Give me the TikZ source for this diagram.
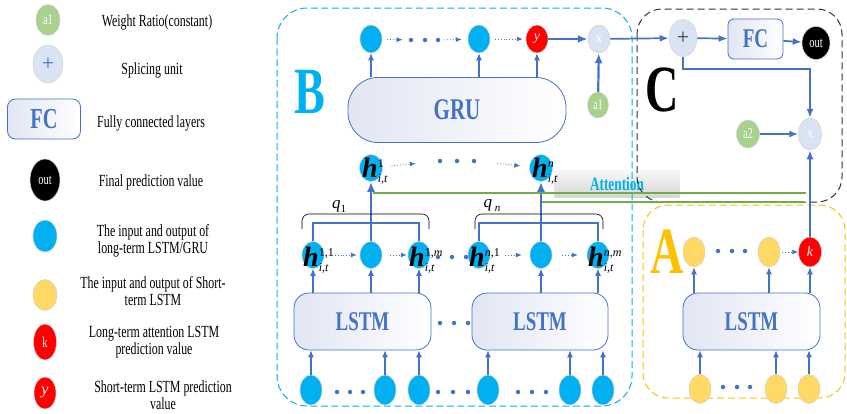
\documentclass[tikz,border=0pt]{standalone}
\usepackage{fontspec}
\setmainfont{Liberation Serif}[FakeStretch=0.7]
\newfontfamily\plainf{Liberation Serif}
\usetikzlibrary{shapes.geometric,arrows.meta}
\definecolor{cblue}{HTML}{00B0F0}
\definecolor{ablue}{HTML}{4472C4}
\definecolor{cyel}{HTML}{FFD966}
\definecolor{cgreen}{HTML}{A9D18E}
\definecolor{splice}{HTML}{DAE3F3}
\definecolor{agreen}{HTML}{70AD47}
\definecolor{aorange}{HTML}{FFC000}
\definecolor{boxl}{HTML}{E1E6F3}
\newcommand{\fs}[1]{\fontsize{#1}{#1}\selectfont}
\newcommand{\hlab}[2]{{\plainf\fs{28}\bfseries\itshape h}{\plainf\fs{12}\rlap{\raisebox{10pt}{#1}}\raisebox{-5pt}{\itshape #2}}}
\begin{document}
\begin{tikzpicture}[x=1pt,y=-1pt,
  sz/.style 2 args={minimum width=#1, minimum height=#2},
  ell/.style={ellipse, inner sep=0pt, draw=gray!35, line width=0.5pt},
  bl/.style={ell, fill=cblue, sz={22}{27}},
  yl/.style={ell, fill=cyel, sz={22}{30}},
  rd/.style={ell, fill=red, text=white, font=\plainf\fs{14}\itshape},
  sp/.style={ell, fill=splice, text=white, font=\plainf\fs{14}},
  gr/.style={ell, fill=cgreen, text=white, font=\fs{15}},
  blk/.style={ell, fill=black, text=white, font=\fs{15}},
  rbox/.style={draw=ablue, line width=0.8pt, left color=boxl, right color=white, text=ablue, inner sep=0pt},
  lt/.style={font=\fs{17}, align=center, inner sep=0pt},
  arr/.style={-{Latex[length=7pt,width=6pt]}, ablue, line width=1.1pt},
  arrm/.style={-{Latex[length=9pt,width=7pt]}, ablue, line width=1.7pt},
  tarr/.style={-{Latex[length=10pt,width=8pt]}, ablue, line width=2.2pt},
  darr/.style={-{Latex[length=6pt,width=5pt]}, ablue, line width=0.8pt, dotted},
  fork/.style={ablue, line width=2.2pt},
  brace/.style={black, line width=0.6pt, rounded corners=7},
  dt/.style={circle, fill=ablue, inner sep=0pt, minimum size=4.5},
  glab/.style={inner sep=0pt, anchor=base west},
  big/.style={font=\fs{66}\bfseries, inner sep=0pt}
]
\useasboundingbox (0,0) rectangle (847,413);

% ---------------- legend
\node[gr, sz={24}{31}] (lga) at (48,20) {a1};
\node[lt] (lt1) at (157,22) {Weight Ratio(constant)};
\node[sp, sz={30}{38}, text=ablue, font=\plainf\fs{22}] (lgs) at (48,64) {+};
\node[lt] (lt2) at (152,70) {Splicing unit};
\node[rbox, sz={73}{40}, rounded corners=8, font=\fs{29}\bfseries] (lgf) at (44,119) {FC};
\node[lt] (lt3) at (151,123) {Fully connected layers};
\node[blk, sz={30}{42}] (lgo) at (45,180) {out};
\node[lt] (lt4) at (151,182) {Final prediction value};
\node[bl, sz={24}{32}] (lgb) at (45,236) {};
\node[lt] (lt5) at (153,241) {The input and output of\\long-term LSTM/GRU};
\node[yl, sz={24}{31}] (lgy) at (45,295) {};
\node[lt] (lt6) at (153,291) {The input and output of Short-\\term LSTM};
\node[rd, sz={23}{36}, font=\fs{15}] (lgk) at (45,342) {k};
\node[lt] (lt7) at (154,342) {Long-term attention LSTM\\prediction value};
\node[rd, sz={22}{32}, font=\plainf\fs{16}\itshape] (lgyy) at (45,393) {y};
\node[lt] (lt8) at (163,395) {Short-term LSTM prediction\\value};

% ---------------- attention box
\node[sz={125}{27}, top color=gray!6, bottom color=gray!32, inner sep=0pt,
      text=cblue, font=\fs{19}\bfseries] (att) at (617,183.5) {Attention};

% ---------------- dashed frames
\draw[cblue, line width=1pt, dash pattern=on 7pt off 3.5pt, rounded corners=30] (277,8) rectangle (632,406);
\draw[black!80, line width=1pt, dash pattern=on 7pt off 4pt, rounded corners=25] (637,9) rectangle (842,202);
\draw[aorange, line width=1pt, dash pattern=on 7pt off 4pt, rounded corners=25] (643,205) rectangle (845,398);

\node[big, text=cblue] (labB) at (310,92) {B};
\node[big, text=black] (labC) at (662,90) {C};
\node[big, text=aorange] (labA) at (667,252) {A};

% ---------------- B : top row
\node[bl, sz={22}{28}] (t1) at (371,39) {};
\node[bl, sz={22}{28}] (t2) at (479,39) {};
\node[rd, sz={22}{28}] (ty) at (537,39) {y};
\node[sp, sz={22}{28}] (tx) at (599,39) {x};
\node[gr, sz={21}{26}] (ta1) at (598,105) {a1};
\node[dt] (td1) at (411,40) {};
\node[dt] (td2) at (425,40) {};
\node[dt] (td3) at (438,40) {};
\draw[darr, shorten <=5pt, shorten >=6pt] (t1) -- (td1);
\draw[darr, shorten <=4pt, shorten >=6pt] (td3) -- (t2);
\draw[darr, shorten <=5pt, shorten >=3pt] (t2) -- (ty);
\draw[tarr] (ty) -- (tx);
\draw[tarr] (ta1) -- (tx);

\node[rbox, sz={218}{65}, rounded corners=30, font=\fs{30}\bfseries] (gru) at (457,110) {GRU};
\draw[arr] (t1 |- gru.north) -- (t1);
\draw[arr] (t2 |- gru.north) -- (t2);
\draw[arr] (ty |- gru.north) -- (ty);

% ---------------- h row
\node[bl, sz={23}{27}] (h1) at (371,168) {};
\node[bl, sz={23}{27}] (hn) at (541,168) {};
\node[glab] (h1l) at (362,177) {\hlab{1}{i,t}};
\node[glab] (hnl) at (532,177) {\hlab{\itshape n}{i,t}};
\node[dt] (hd1) at (440,161) {};
\node[dt] (hd2) at (457,161) {};
\node[dt] (hd3) at (474,161) {};
\draw[darr, shorten <=9pt, shorten >=22pt] (h1) -- (hd1);
\draw[darr, shorten <=21pt, shorten >=9pt] (hd3) -- (hn);

% ---------------- second row
\node[bl] (g11) at (313,255) {};
\node[bl] (g1c) at (371,255) {};
\node[bl] (g1m) at (419,255) {};
\node[bl] (gn1) at (479,255) {};
\node[bl] (gnc) at (541,255) {};
\node[bl] (gnm) at (598,255) {};
\node[glab] (g11l) at (303,266) {\hlab{1,1}{i,t}};
\node[glab] (g1ml) at (409,266) {\hlab{1,\itshape m}{i,t}};
\node[glab] (gn1l) at (469,266) {\hlab{\itshape n\upshape,1}{i,t}};
\node[glab] (gnml) at (588,266) {\hlab{\itshape n\upshape,\itshape m}{i,t}};
\node[dt] (gd1) at (438,257) {};
\node[dt] (gd2) at (452,257) {};
\node[dt] (gd3) at (466,257) {};
\draw[darr, shorten <=8pt, shorten >=3pt] (g11) -- (g1c);
\draw[darr, shorten <=8pt, shorten >=1pt] (g1c) -- (g1m);
\draw[darr, shorten <=15pt, shorten >=8pt] (gn1) -- (gnc);
\draw[darr, shorten <=10pt, shorten >=9pt] (gnc) -- (gnm);

% forks and braces
\coordinate (fk1) at (371,223);
\coordinate (fk2) at (541,223);
\draw[fork] (g11.north) |- (fk1) -| (g1m.north);
\draw[fork] (gn1.north) |- (fk2) -| (gnm.north);
\draw[tarr] (g1c.north) -- (h1);
\draw[tarr] (gnc.north) -- (hn);
\coordinate (br1a) at (302,229);
\coordinate (br1b) at (429,229);
\coordinate (br2a) at (475,229);
\coordinate (br2b) at (603,229);
\draw[brace] (br1a) -- ++(0,-15) -| (br1b);
\draw[brace] (br2a) -- ++(0,-15) -| (br2b);
\node[inner sep=0pt, font=\plainf\fs{17}\itshape] (q1) at (339,206) {q\raisebox{-4pt}{\fs{11}\upshape 1}};
\node[inner sep=0pt, font=\plainf\fs{17}\itshape] (qn) at (492,205) {q\raisebox{-4pt}{\fs{11} n}};

% ---------------- LSTM boxes
\node[rbox, sz={137}{57}, rounded corners=15, font=\fs{27}\bfseries] (ls1) at (362.5,321.5) {LSTM};
\node[rbox, sz={136}{57}, rounded corners=15, font=\fs{27}\bfseries] (ls2) at (540,321.5) {LSTM};
\node[dt] (ld1) at (440,323) {};
\node[dt] (ld2) at (454,323) {};
\node[dt] (ld3) at (468,323) {};
\draw[arr] (g11 |- ls1.north) -- (g11);
\draw[arr] (g1c |- ls1.north) -- (g1c);
\draw[arr] (g1m |- ls1.north) -- (g1m);
\draw[arr] (gnc |- ls2.north) -- (gnc);
\draw[arr] (gnm |- ls2.north) -- (gnm);

% ---------------- bottom inputs
\foreach \n/\x in {b1/311,b2/385,b3/419,b4/488,b5/570,b6/603}{
  \node[bl, sz={22}{30}] (\n) at (\x,390) {};
}
\foreach \n/\x in {bd1/337,bd2/350,bd3/363,bd4/438,bd5/453,bd6/468,bd7/518,bd8/532,bd9/546}{
  \node[dt] (\n) at (\x,392) {};
}
\draw[arr] (b1) -- (b1 |- ls1.south);
\draw[arr] (b2) -- (b2 |- ls1.south);
\draw[arr] (b3) -- (b3 |- ls1.south);
\draw[arr] (b4) -- (b4 |- ls2.south);
\draw[arr] (b5) -- (b5 |- ls2.south);
\draw[arr] (b6) -- (b6 |- ls2.south);

% ---------------- C
\node[sp, sz={28}{37}, text=black!75, font=\plainf\fs{22}] (cplus) at (683,38) {+};
\node[rbox, sz={55}{40}, rounded corners=6, font=\fs{27}\bfseries] (cfc) at (755.5,39) {FC};
\node[blk, sz={28}{33}] (cout) at (816,43) {out};
\node[sp, sz={23}{32}] (cx2) at (810,134) {x};
\node[gr, sz={23}{28}] (ca2) at (748,134) {a2};
\draw[arrm] (tx) -- (cplus);
\draw[arrm] (cplus) -- (cfc);
\draw[arrm] (cfc) -- (cout);
\draw[arrm] (cplus.south) -- ++(0,12) -| (cx2.north);
\draw[arrm] (ca2) -- (cx2);

% ---------------- A
\node[yl] (ay1) at (694,252) {};
\node[yl] (ay2) at (769,252) {};
\node[rd, sz={23}{30}] (ak) at (810,252) {k};
\node[dt] (ad1) at (718,251) {};
\node[dt] (ad2) at (732,251) {};
\node[dt] (ad3) at (745,251) {};
\draw[darr, shorten <=2pt] (ay2) -- (ak);
\node[rbox, sz={137}{57}, rounded corners=15, font=\fs{27}\bfseries] (lsA) at (751.5,321.5) {LSTM};
\draw[arr] (ay1 |- lsA.north) -- (ay1);
\draw[arr] (ay2 |- lsA.north) -- (ay2);
\draw[arr] (ak |- lsA.north) -- (ak);
\node[yl, sz={22}{29}] (ab1) at (700,389) {};
\node[yl, sz={22}{29}] (ab2) at (776,389) {};
\node[yl, sz={22}{29}] (ab3) at (809,389) {};
\node[dt] (abd1) at (723,387) {};
\node[dt] (abd2) at (737,387) {};
\node[dt] (abd3) at (750,387) {};
\draw[arr] (ab1) -- (ab1 |- lsA.south);
\draw[arr] (ab2) -- (ab2 |- lsA.south);
\draw[arr] (ab3) -- (ab3 |- lsA.south);
\draw[arrm] (ak) -- (cx2);

% ---------------- attention lines
\coordinate (ga) at (373,193);
\coordinate (gb) at (806,193);
\coordinate (gc) at (542,202);
\coordinate (gd) at (804,202);
\draw[agreen, line width=1.8pt] (ga) -- (gb);
\draw[agreen, line width=1.8pt] (gc) -- (gd);
\end{tikzpicture}
\end{document}
